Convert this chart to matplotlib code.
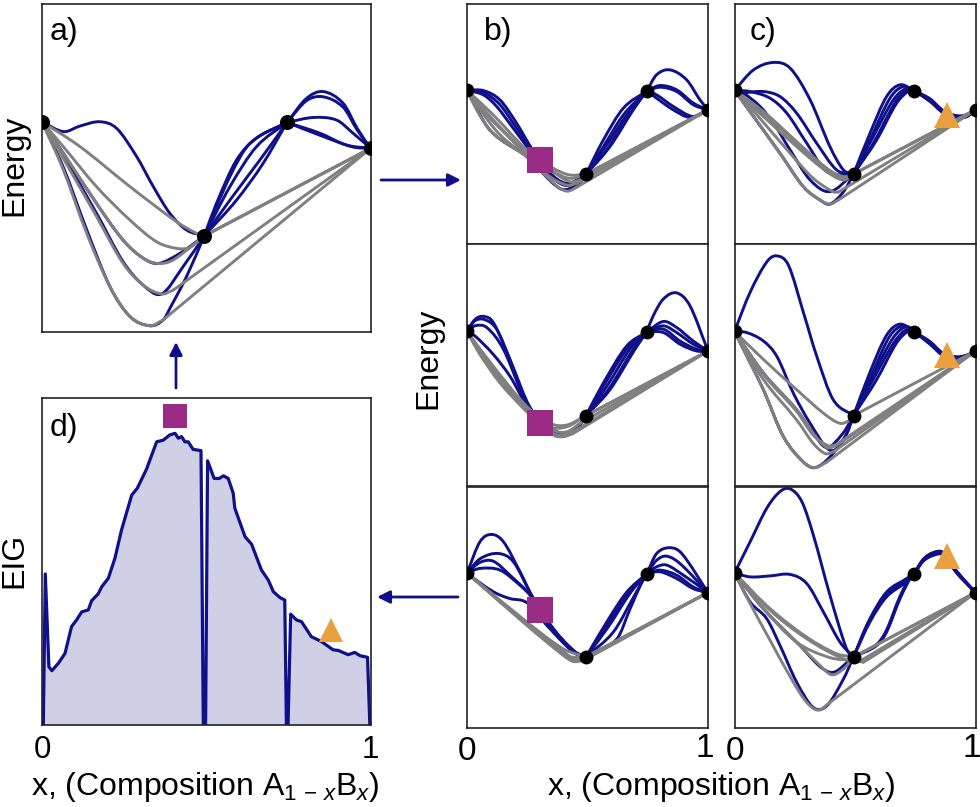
import numpy as np
import matplotlib
matplotlib.use("Agg")
import matplotlib.pyplot as plt
from matplotlib.path import Path
from matplotlib.patches import PathPatch, FancyArrowPatch

plt.rcParams['font.family'] = ['Liberation Sans', 'DejaVu Sans']
plt.rcParams['mathtext.fontset'] = 'custom'
plt.rcParams['mathtext.rm'] = 'Liberation Sans'
plt.rcParams['mathtext.it'] = 'Liberation Sans:italic'

W, H = 980, 807
BLUE = '#10108a'
GREY = '#808080'
PURPLE = '#9c2b85'
ORANGE = '#e8a040'
LW = 2.1

# known compositions, energies (same in every panel)
pin_x = [0, .494, .746, 1]
pin_y = [64.1, 29.3, 63.9, 56]

# panel a
a_grey = [
    [(.116,56.5),(.268,44.3),(.41,33.6),(.47,30.1),(.494,29.3)],
    [(.065,56.5),(.166,44.3),(.268,34.1),(.349,27.5),(.41,25.5),(.45,25.8),(.494,29.3)],
    [(.065,54.5),(.166,39.2),(.247,28),(.308,22.5),(.354,20.9),(.4,22),(.494,29.3)],
    [(.065,52.9),(.166,35.2),(.247,20.9),(.308,14.3),(.364,11.6),(.4,12.8)],
    [(.065,49.4),(.136,30.1),(.207,13.8),(.268,4.7),(.329,1.9),(.369,3.7)],
]
a_left = [
    [(.065,61.1),(.116,62.8),(.176,64.1),(.227,62.1),(.288,53.5),(.339,44.3),(.389,36.2),(.44,31.1)],
    [(.065,53.6),(.166,36.2),(.247,21.4),(.308,14.3),(.364,11.6),(.43,20)],
    [(.065,54.5),(.166,39.2),(.247,28),(.308,22.5),(.354,20.9),(.42,24)],
    [(.065,50.2),(.136,31.2),(.207,13.8),(.268,4.7),(.329,1.9),(.369,3.7),(.392,7.7),(.44,16.9)],
]
a_mid = [
    [(.531,39.2),(.592,52.4),(.653,59.1)],
    [(.572,47.4),(.633,57.5)],
    [(.572,44.3),(.653,56.5)],
    [(.572,40.2),(.663,52.4)],
    [(.592,40.2),(.673,51.4)],
]
a_right = [
    [(.805,71.2),(.856,73.3),(.917,69.7),(.96,62)],
    [(.805,70.5),(.856,71.7),(.917,68.5),(.96,61.5)],
    [(.826,65.4),(.897,64.6),(.947,60.6)],
    [(.846,60.6),(.927,57)],
    [(.856,59.6),(.947,56.4)],
]

# panel b, top
b1_grey = [
    [(.109,53.9),(.248,39.3),(.358,31.7),(.427,28.9),(.494,29.3)],
    [(.109,51.8),(.248,37.9),(.358,30.3),(.427,27.5),(.494,29.3)],
    [(.082,53.9),(.178,44.2),(.248,37.2),(.344,31),(.427,26.1),(.469,26.8)],
    [(.054,56),(.137,45.6),(.248,36.5),(.344,28.2),(.414,24.7),(.455,25.4)],
    [(.04,56),(.095,47.6),(.151,42.8),(.248,36.5),(.331,28.2),(.386,23.3),(.42,22.2),(.455,23.8)],
]
b1_left = [
    [(.068,64),(.137,60.1),(.206,50.4),(.268,40),(.331,31),(.414,25.4)],
    [(.068,63.2),(.137,58.1),(.206,48.3),(.268,39.3),(.331,30),(.414,25)],
    [(.068,62.2),(.123,57.4),(.192,48.3),(.254,40),(.331,30),(.414,24.5)],
    [(.095,47.6),(.248,36.5),(.386,23.3),(.46,25)],
]
b1_mid = [
    [(.566,43.5),(.649,56.7)],
    [(.566,40.7),(.649,53.9)],
    [(.58,41.4),(.663,53.9)],
    [(.58,39.3),(.676,54.6)],
    [(.593,40.7),(.69,56)],
]
b1_right = [
    [(.787,70.6),(.842,72.6),(.911,68.5),(.967,60.1)],
    [(.801,66.1),(.87,64.3),(.939,58.8)],
    [(.801,65.4),(.87,63.6),(.939,58.1)],
    [(.787,60.8),(.856,56),(.925,52.9)],
    [(.787,62.2),(.856,57.4),(.939,53.2)],
]

# panel b, middle
b2_grey = [
    [(.109,48.3),(.248,32.4),(.344,24.7),(.414,24.7),(.494,29.3)],
    [(.082,51.8),(.178,39.3),(.248,31.7),(.358,23.3),(.414,22.6),(.469,26.1)],
    [(.054,54.6),(.137,42.8),(.234,32.4),(.358,21.3),(.4,20.6),(.441,21.9)],
    [(.068,52.5),(.165,40),(.248,31),(.358,21.9),(.4,21.3),(.448,23.1)],
    [(.109,49.7),(.248,33.1),(.344,26.1),(.414,25.4),(.494,29.3)],
]
b2_left = [
    [(.033,69),(.068,70.3),(.109,67.8),(.178,52.5),(.268,31.7),(.386,22),(.46,24.7)],
    [(.033,68.5),(.075,68.9),(.123,65),(.178,52.5),(.261,31.7),(.386,22),(.46,24.7)],
    [(.033,66.4),(.082,65.7),(.151,56.7),(.261,31.7),(.386,22),(.46,24.7)],
    [(.033,62.2),(.109,54.6),(.178,45.6),(.261,31.7),(.386,22),(.46,24.7)],
]
b2_mid = [
    [(.566,42.8),(.663,58.1)],
    [(.566,41.4),(.663,56.7)],
    [(.58,41.4),(.676,56.7)],
    [(.586,40),(.69,56.7)],
    [(.593,40),(.697,56.7)],
]
b2_right = [
    [(.773,70.6),(.815,77.5),(.87,80),(.925,74.7)],
    [(.815,68.2),(.87,65.7),(.939,60.1)],
    [(.815,66.4),(.87,63.6),(.939,58.8)],
    [(.815,65),(.884,60.1),(.953,56.7)],
    [(.815,63.6),(.884,58.8),(.953,56)],
]

# panel b, bottom
b3_grey = [
    [(.248,43.8),(.4,32.6),(.494,29.3)],
    [(.248,43.1),(.414,29.9),(.494,29.3)],
    [(.248,42.4),(.4,29.9),(.441,27.4),(.483,27.8)],
    [(.248,42.8),(.4,30.5),(.441,28),(.483,28.2)],
    [(.248,43.4),(.4,31.5),(.441,28.8),(.494,29.3)],
]
b3_left = [
    [(.054,77.1),(.102,80.1),(.151,77.1),(.22,64.6),(.275,53.5),(.358,41),(.441,31.3)],
    [(.054,70),(.13,72.2),(.192,68.8),(.268,54.9),(.344,42.4),(.441,31.9)],
    [(.054,68.5),(.109,69),(.178,63.2),(.268,54.2),(.344,41.7),(.441,31.5)],
    [(.054,66),(.137,65.3),(.22,59),(.268,54.2),(.358,41),(.45,31.3)],
    [(.068,59),(.123,55.6),(.178,53.5),(.248,51.8),(.331,42.4),(.441,31.3)],
]
b3_mid = [
    [(.58,43.8),(.663,56.2)],
    [(.58,42.4),(.67,55.6)],
    [(.586,41.7),(.676,55.6)],
    [(.622,36.8),(.677,49.3),(.732,61.8)],
    [(.607,39.6),(.69,53.9)],
]
b3_right = [
    [(.787,72.2),(.842,74.6),(.891,72.2)],
    [(.787,69.4),(.828,71.1),(.884,68)],
    [(.787,66.7),(.828,67.4),(.898,63.2)],
    [(.801,65.3),(.87,63.2),(.939,58.3)],
    [(.801,64.6),(.87,61.8),(.939,57.6)],
]

# panel c, top
c1_grey = [
    [(.12,54.6),(.258,42.1),(.383,31),(.452,27.5),(.494,29.3)],
    [(.12,53.2),(.258,40.7),(.383,30.3),(.452,26.8),(.494,29.3)],
    [(.12,55.3),(.258,42.8),(.383,31.7),(.452,28.2),(.494,29.3)],
    [(.093,53.9),(.231,37.9),(.327,27.5),(.41,21.9),(.431,21.8)],
    [(.079,53.2),(.189,37.9),(.286,24),(.355,18.5),(.396,16.8),(.431,18.5)],
]
c1_left = [
    [(.079,72.6),(.162,75.7),(.231,73.3),(.314,60.1),(.396,40.7),(.452,31)],
    [(.037,63.2),(.12,63.6),(.189,61.5),(.258,54.6),(.341,42.1),(.424,31)],
    [(.065,63.6),(.148,60.8),(.217,54.6),(.3,42.1),(.383,30.3)],
    [(.037,62.9),(.106,57.4),(.162,50.4),(.231,39.3),(.314,26.8),(.396,22)],
    [(.079,53.2),(.189,37.9),(.286,24),(.355,18.5),(.396,16.8),(.452,21.9)],
]
c1_mid = [
    [(.562,46.2),(.631,61.5),(.687,66.4)],
    [(.562,43.5),(.645,60.8),(.7,65.7)],
    [(.576,44.9),(.659,60.1),(.714,65)],
    [(.576,42.1),(.673,60.1),(.721,64.3)],
    [(.59,43.5),(.673,58.8),(.728,64.3)],
]
c1_right = [
    [(.811,60.6),(.866,55.7),(.921,53.6),(.963,53.9)],
    [(.811,60.3),(.866,55.4),(.921,53.3),(.963,53.6)],
    [(.811,60.1),(.866,55.3),(.921,53.2),(.963,53.5)],
    [(.811,59.8),(.866,55),(.921,53),(.963,53.3)],
    [(.811,59.5),(.866,54.7),(.921,52.8),(.963,53.1)],
]

# panel c, middle
c2_grey = [
    [(.12,52.5),(.258,40),(.369,30.3),(.438,26.1),(.48,27.5),(.494,29.3)],
    [(.12,46.9),(.258,31.7),(.327,21.9),(.383,16.1),(.424,17)],
    [(.12,44.2),(.258,27.5),(.327,17.8),(.376,13.6),(.41,14.3)],
    [(.065,51.1),(.12,40),(.203,20.6),(.286,10.1),(.334,7.8),(.383,10.1)],
    [(.12,46.3),(.258,31),(.327,21.2),(.39,16.8),(.42,17.2)],
]
c2_left = [
    [(.065,80.3),(.134,92.8),(.175,95.3),(.224,91.4),(.286,71.9),(.341,53.9),(.41,35.8)],
    [(.051,63.6),(.12,60.1),(.175,53.9),(.244,38.6),(.314,26.1),(.396,15),(.452,19.2)],
    [(.065,51.1),(.12,40),(.203,20.6),(.286,10.1),(.334,7.8),(.396,12.2),(.466,21.9)],
    [(.12,46.9),(.258,31.7),(.327,21.9),(.383,16.1),(.45,22)],
]
c2_mid = [
    [(.562,47.2),(.631,62.5),(.687,67.1)],
    [(.576,47.8),(.645,62.2),(.7,66.4)],
    [(.576,46.2),(.659,61.5),(.714,66.1)],
    [(.583,45.6),(.666,60.1),(.721,65.3)],
    [(.59,44.2),(.673,59.4),(.728,64.7)],
]
c2_right = [
    [(.811,59.9),(.866,55),(.921,53.6),(.963,54.3)],
    [(.811,59.6),(.866,54.8),(.921,53.4),(.963,54.1)],
    [(.811,59.4),(.866,54.6),(.921,53.2),(.963,53.9)],
    [(.811,59.1),(.866,54.3),(.921,53),(.963,53.7)],
    [(.811,58.8),(.866,54),(.921,52.8),(.963,53.5)],
]

# panel c, bottom
c3_grey = [
    [(.148,49.3),(.3,37.5),(.424,30.6),(.494,29.3)],
    [(.12,49.3),(.258,35.4),(.355,25.7),(.404,21.9),(.452,24.3),(.494,29.2)],
    [(.065,51.4),(.148,36.1),(.244,18.8),(.3,10.4),(.348,7.2),(.396,10.4)],
    [(.12,49.3),(.258,35.4),(.396,29),(.49,27.8),(.535,27.1)],
    [(.148,48.6),(.3,36.8),(.452,28.5),(.52,27.5)],
]
c3_left = [
    [(.065,77.1),(.134,91),(.189,97.9),(.231,99),(.279,93.8),(.327,79.9),(.396,54.9),(.465,32.6)],
    [(.065,62.5),(.148,62.9),(.231,63.5),(.3,59.7),(.369,47.9),(.438,35.4)],
    [(.065,52.1),(.134,45.1),(.189,34),(.258,18.8),(.327,8.3),(.383,9),(.452,20.1)],
    [(.12,49.3),(.258,35.4),(.396,22.9)],
]
c3_mid = [
    [(.562,45.1),(.631,56.2),(.714,61.8)],
    [(.556,43.8),(.631,54.9),(.714,61.1)],
    [(.562,43.8),(.631,54.2),(.714,60.4)],
    [(.59,34),(.631,39.6),(.687,53.5),(.736,63.2)],
    [(.59,34.5),(.631,40.5),(.687,54.5),(.736,63.5)],
]
c3_right = [
    [(.783,69.8),(.825,72.6),(.866,72.6),(.921,65)],
    [(.783,69.6),(.825,72.4),(.866,72.4),(.921,64.8)],
    [(.783,69.4),(.825,72.2),(.866,72.2),(.921,64.6)],
    [(.783,69.2),(.825,71.8),(.866,71.9),(.921,64.4)],
    [(.783,69),(.825,71.4),(.866,71.6),(.921,64.2)],
]

# panel d, expected information gain
eig_x = [.004,.010,.021,.030,.050,.070,.090,.105,.121,.141,.151,.171,.182,.202,.222,.242,
         .273,.290,.318,.349,.369,.389,.405,.415,.425,.435,.445,.460,.484,.491,.498,.504,
         .524,.540,.552,.567,.582,.587,.618,.638,.668,.689,.704,.724,.739,.744,.749,.757,
         .775,.790,.820,.851,.886,.902,.932,.952,.968,.991,.998]
eig_y = [0,46.2,17.8,16.6,18.9,21.9,30.1,32.1,34.6,35.2,38,40.1,42.3,44.9,51,59.6,
         70.3,72.4,78.2,86.6,87.1,88.7,89.2,87.7,88.2,86.6,86.6,84.3,83.9,0,0,80.8,
         75.4,75.4,76.2,75.4,70.9,66.3,57.6,55.3,47.4,44.3,40.8,39,38.2,0,0,33.9,
         32.1,31.6,27,25.5,23,22.8,21.5,22.2,21.2,20.7,0]

# queried points
square_x, square_y_b = .303, [35, 26.1, 48.9]
triangle_x, triangle_y_c = .88, [53.9, 54.5, 71]
d_square = (.404, 94.6)
d_triangle = (.879, 29)


def make_ax(left, top, right, bottom):
    ax = fig.add_axes([left / W, 1 - bottom / H, (right - left) / W, (bottom - top) / H])
    ax.set_xlim(0, 1)
    ax.set_ylim(0, 100)
    ax.set_yticks([])
    ax.set_xticks([])
    for s in ax.spines.values():
        s.set_linewidth(1.2)
        s.set_color('#222222')
    return ax


# smooth line through the read points
def curve(ax, pts, color, z):
    x = np.array([p[0] for p in pts], float)
    y = np.array([p[1] for p in pts], float)
    slope = np.gradient(y, x)
    slope[1:-1] = (y[2:] - y[:-2]) / (x[2:] - x[:-2])
    verts = [(x[0], y[0])]
    for i in range(len(x) - 1):
        d = (x[i + 1] - x[i]) / 3
        verts += [(x[i] + d, y[i] + d * slope[i]),
                  (x[i + 1] - d, y[i + 1] - d * slope[i + 1]),
                  (x[i + 1], y[i + 1])]
    codes = [Path.MOVETO] + [Path.CURVE4] * (len(verts) - 1)
    ax.add_patch(PathPatch(Path(verts, codes), fc='none', ec=color, lw=LW, zorder=z,
                           capstyle='round', joinstyle='round'))


def draw_panel(ax, grey, left, mid, right, ms):
    for c in left:
        curve(ax, [(pin_x[0], pin_y[0])] + c + [(pin_x[1], pin_y[1])], BLUE, 2)
    for c in mid:
        curve(ax, [(pin_x[1], pin_y[1])] + c + [(pin_x[2], pin_y[2])], BLUE, 2)
    for c in right:
        curve(ax, [(pin_x[2], pin_y[2])] + c + [(pin_x[3], pin_y[3])], BLUE, 2)
    for c in grey:
        curve(ax, [(pin_x[0], pin_y[0])] + c, GREY, 3)
        ax.plot([c[-1][0], pin_x[3]], [c[-1][1], pin_y[3]], color=GREY, lw=LW, zorder=3,
                solid_capstyle='round')
    ax.plot(pin_x, pin_y, 'o', color='black', ms=ms, mew=0, zorder=5)


fig = plt.figure(figsize=(W / 100, H / 100), dpi=100)

ax_a = make_ax(42, 4, 370.5, 332)
draw_panel(ax_a, a_grey, a_left, a_mid, a_right, 10.8)

ax_d = make_ax(42, 398, 370.5, 725)
ax_d.fill_between(eig_x, eig_y, color='#cfd0e6', lw=0, zorder=1)
ax_d.plot(eig_x, eig_y, color=BLUE, lw=2.3, zorder=2, solid_joinstyle='round')
ax_d.plot(*d_square, 's', color=PURPLE, ms=17.2, mew=0, zorder=4)
ax_d.plot(*d_triangle, '^', color=ORANGE, ms=17.2, mew=0, zorder=4)

b_rows = [(4, 244.5), (244.5, 486.5), (486.5, 727.5)]
b_data = [(b1_grey, b1_left, b1_mid, b1_right),
          (b2_grey, b2_left, b2_mid, b2_right),
          (b3_grey, b3_left, b3_mid, b3_right)]
c_data = [(c1_grey, c1_left, c1_mid, c1_right),
          (c2_grey, c2_left, c2_mid, c2_right),
          (c3_grey, c3_left, c3_mid, c3_right)]
axes_b, axes_c = [], []
for i in range(3):
    ax = make_ax(467, b_rows[i][0], 708, b_rows[i][1])
    draw_panel(ax, *b_data[i], 10)
    ax.plot(square_x, square_y_b[i], 's', color=PURPLE, ms=19.2, mew=0, zorder=6)
    axes_b.append(ax)
    ax = make_ax(734.5, b_rows[i][0], 975.5, b_rows[i][1])
    draw_panel(ax, *c_data[i], 10)
    ax.plot(triangle_x, triangle_y_c[i], '^', color=ORANGE, ms=19.2, mew=0, zorder=6)
    axes_c.append(ax)

ax_d.set_xticks([0, 1])
ax_d.set_xticklabels(['0', '1'], fontsize=22.5)
ax_d.tick_params(axis='x', length=0, pad=7)
for ax, one_at in [(axes_b[2], .985), (axes_c[2], .985)]:
    ax.set_xticks([0])
    ax.set_xticklabels(['0'], fontsize=24)
    ax.tick_params(axis='x', length=0, pad=6)
    # this 1 sits a bit left of the axis end in the picture
    ax.text(one_at, -.024, '1', fontsize=24, transform=ax.transAxes, ha='center', va='top',
            clip_on=False)

FS = 23
for label, px, py in [('a)', 50, 32), ('b)', 484, 32), ('c)', 750, 32), ('d)', 50, 428)]:
    fig.text(px / W, 1 - py / H, label, fontsize=FS, ha='left', va='center')
for px, py, label in [(14, 165, 'Energy'), (14, 560, 'EIG'), (428, 358, 'Energy')]:
    fig.text(px / W, 1 - py / H, label, fontsize=FS, rotation=90, ha='center', va='center')
xlabel = r'x, (Composition A$_{1\,-\,x}$B$_{x}$)'
fig.text(205 / W, 1 - 795 / H, xlabel, fontsize=FS, ha='center', va='baseline')
fig.text(721 / W, 1 - 795 / H, xlabel, fontsize=FS, ha='center', va='baseline')

# arrows between panels
for x0, y0, x1, y1 in [(381, 180, 461, 180), (176, 388, 176, 342), (458, 597, 377, 597)]:
    fig.add_artist(FancyArrowPatch((x0 / W, 1 - y0 / H), (x1 / W, 1 - y1 / H),
                                   transform=fig.transFigure, arrowstyle='-|>',
                                   mutation_scale=19, color=BLUE, lw=2,
                                   shrinkA=0, shrinkB=0))

fig.savefig('out.png', dpi=100)
